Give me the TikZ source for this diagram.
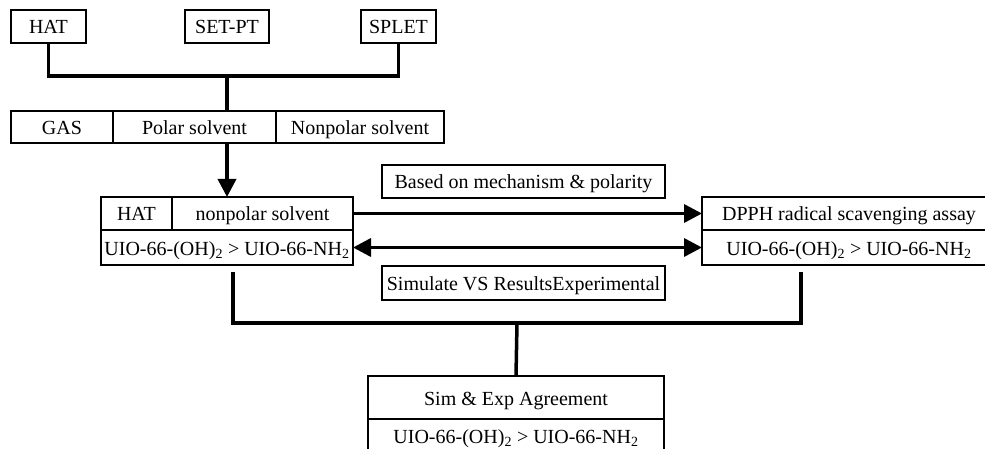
\documentclass[tikz,border=0pt]{standalone}
\usepackage{fontspec}
\setmainfont{Liberation Serif}
\usetikzlibrary{positioning,arrows.meta}
\begin{document}
\begin{tikzpicture}[x=1pt,y=-1pt]
\tikzstyle{cell} = [rectangle, draw=black, line width=1.5pt, minimum height=33pt, text height=17pt, text depth=2pt, inner sep=2pt, outer sep=0pt, text centered, font=\fontsize{20}{24}\selectfont]
\tikzstyle{link} = [line width=3.5pt]
\tikzstyle{arrow} = [line width=3.5pt, -{Triangle[length=18pt,width=18pt]}]
\tikzstyle{dblarrow} = [line width=3.5pt, {Triangle[length=18pt,width=18pt]}-{Triangle[length=18pt,width=18pt]}]

\useasboundingbox (0,0) rectangle (985,449);

%nodes
\node (hat) [cell, minimum width=75pt] at (48.5,26.5) {HAT};
\node (setpt) [cell, minimum width=84pt] at (227,26.5) {SET-PT};
\node (splet) [cell, minimum width=75pt] at (398.5,26.5) {SPLET};

\node (gas) [cell, minimum width=102pt, minimum height=32pt] at (62,127) {GAS};
\node (polar) [cell, minimum width=163pt, minimum height=32pt, right=0pt of gas] {Polar solvent};
\node (nonpolar) [cell, minimum width=168pt, minimum height=32pt, right=0pt of polar] {Nonpolar solvent};

\node (simhat) [cell, minimum width=71pt] at (136.5,213.5) {HAT};
\node (simsolv) [cell, minimum width=181pt, right=0pt of simhat] {nonpolar solvent};
\node (simres) [cell, minimum width=252pt, minimum height=35pt, anchor=north west] at (simhat.south west) {UIO-66-(OH)\textsubscript{2} > UIO-66-NH\textsubscript{2}};

\node (dpph) [cell, minimum width=294pt] at (849,213.5) {DPPH radical scavenging assay};
\node (expres) [cell, minimum width=294pt, minimum height=35pt, below=0pt of dpph] {UIO-66-(OH)\textsubscript{2} > UIO-66-NH\textsubscript{2}};

\node (basis) [cell, minimum width=283pt] at (523.5,181.5) {Based on mechanism \& polarity};
\node (compare) [cell, minimum width=283pt, minimum height=34pt] at (523.5,283) {Simulate VS ResultsExperimental};

\node (agree) [cell, minimum width=296pt, minimum height=43pt, anchor=north] at (516,376) {Sim \& Exp Agreement};
\node (agreeres) [cell, minimum width=296pt, minimum height=33pt, below=0pt of agree] {UIO-66-(OH)\textsubscript{2} > UIO-66-NH\textsubscript{2}};

%lines
\coordinate (top) at (227,76);
\coordinate (simleft) at (233,272);
\coordinate (expright) at (801,272);
\coordinate (bottom) at (517,323);

\draw [link] (hat.south) |- (top) -| (splet.south);
\draw [link] (top) -- (top |- gas.north);
\draw [arrow] (top |- gas.south) -- (top |- simhat.north);
\draw [arrow] (simsolv.east) -- (dpph.west);
\draw [dblarrow] (simres.east) -- (expres.west);
\draw [link] (simleft) |- (bottom) -| (expright);
\draw [link] (bottom) -- (agree.north);

\end{tikzpicture}
\end{document}
